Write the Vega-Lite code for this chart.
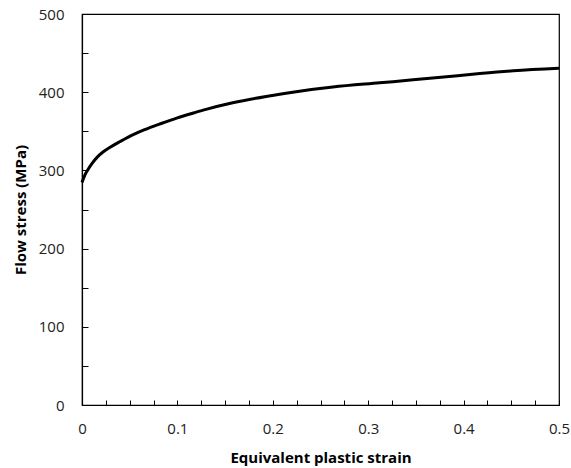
{
  "$schema": "https://vega.github.io/schema/vega-lite/v6.json",
  "autosize": "none",
  "width": 477,
  "height": 391,
  "padding": {"left": 82, "top": 14, "right": 12, "bottom": 63},
  "background": "white",
  "config": {
    "view": {"stroke": "black", "strokeWidth": 1.2},
    "font": "Open Sans",
    "axis": {
      "domainColor": "black",
      "domainWidth": 1.2,
      "tickColor": "black",
      "tickWidth": 1,
      "grid": false,
      "labelFont": "Open Sans",
      "labelFontSize": 15,
      "labelColor": "#222",
      "titleFont": "Open Sans",
      "titleFontSize": 15,
      "titleFontWeight": "bold",
      "titleColor": "black"
    }
  },
  "data": {
    "values": [
      {"strain": 0.0, "stress": 284.5},
      {"strain": 0.003, "stress": 294},
      {"strain": 0.006, "stress": 300.5},
      {"strain": 0.010, "stress": 308},
      {"strain": 0.016, "stress": 317},
      {"strain": 0.022, "stress": 323.5},
      {"strain": 0.030, "stress": 330},
      {"strain": 0.040, "stress": 337},
      {"strain": 0.048, "stress": 342.3},
      {"strain": 0.065, "stress": 351.7},
      {"strain": 0.083, "stress": 360},
      {"strain": 0.100, "stress": 367.2},
      {"strain": 0.118, "stress": 373.8},
      {"strain": 0.130, "stress": 378},
      {"strain": 0.158, "stress": 386.4},
      {"strain": 0.193, "stress": 394.6},
      {"strain": 0.228, "stress": 401.3},
      {"strain": 0.263, "stress": 406.6},
      {"strain": 0.312, "stress": 412},
      {"strain": 0.347, "stress": 415.8},
      {"strain": 0.382, "stress": 419.8},
      {"strain": 0.417, "stress": 423.8},
      {"strain": 0.452, "stress": 427.3},
      {"strain": 0.500, "stress": 430.5}
    ]
  },
  "mark": {"type": "line", "color": "black", "strokeWidth": 3, "interpolate": "monotone"},
  "encoding": {
    "x": {
      "field": "strain",
      "type": "quantitative",
      "scale": {"domain": [0, 0.5], "nice": false},
      "axis": {
        "title": "Equivalent plastic strain",
        "values": [0, 0.025, 0.05, 0.075, 0.1, 0.125, 0.15, 0.175, 0.2, 0.225, 0.25, 0.275, 0.3, 0.325, 0.35, 0.375, 0.4, 0.425, 0.45, 0.475, 0.5],
        "labelExpr": "abs(datum.value*10 - round(datum.value*10)) < 0.001 ? format(datum.value, '~g') : ''",
        "tickSize": -5,
        "labelPadding": 21,
        "titlePadding": 14,
        "labelFlush": false
      }
    },
    "y": {
      "field": "stress",
      "type": "quantitative",
      "scale": {"domain": [0, 500], "nice": false},
      "axis": {
        "title": "Flow stress (MPa)",
        "values": [0, 50, 100, 150, 200, 250, 300, 350, 400, 450, 500],
        "labelExpr": "datum.value % 100 == 0 ? datum.label : ''",
        "tickSize": -6,
        "labelPadding": 24,
        "titlePadding": 10,
        "labelFlush": false
      }
    }
  }
}
